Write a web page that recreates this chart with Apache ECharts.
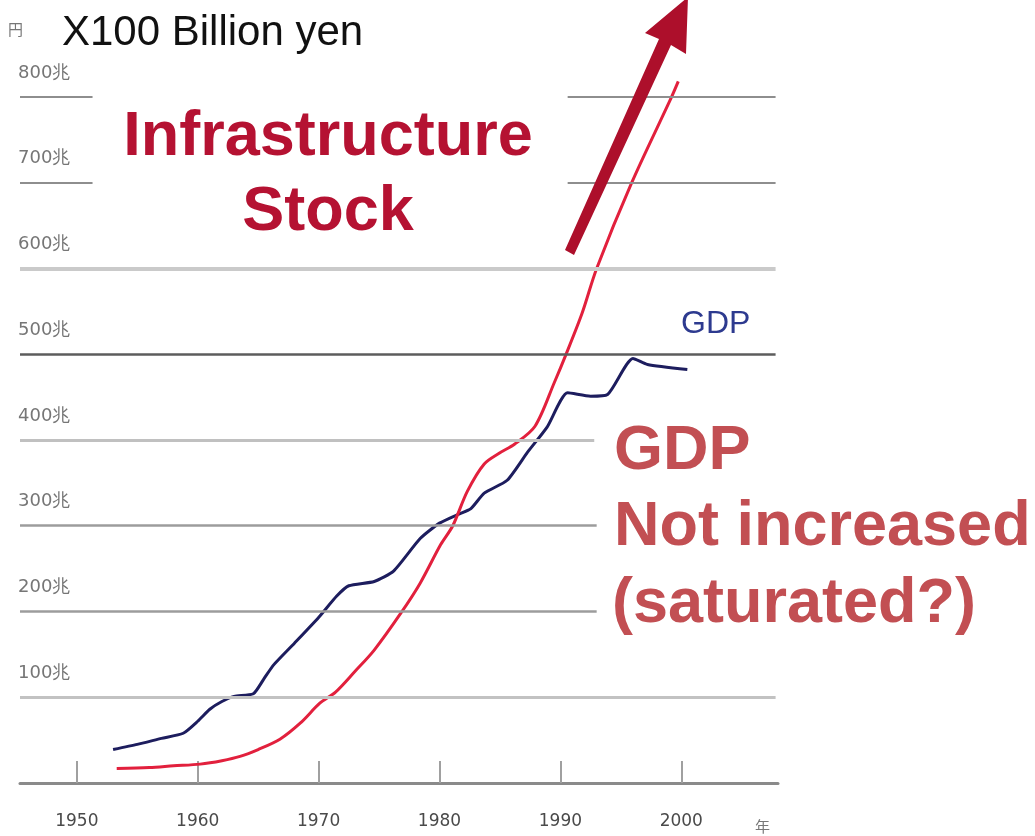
<!DOCTYPE html>
<html>
<head>
<meta charset="utf-8">
<script src="https://cdn.jsdelivr.net/npm/echarts@6/dist/echarts.min.js"></script>
<style>
  html, body { margin: 0; padding: 0; background: #fff; }
  #chart { width: 1035px; height: 836px; }
</style>
</head>
<body>
<div id="chart"></div>
<script>
// Infrastructure stock (x100 billion yen) by year
const stockYears  = [1953.3, 1956, 1958, 1960.2, 1962, 1963.5, 1965, 1966.8, 1968.5, 1970.1, 1971.4, 1973, 1974.6, 1976.8, 1978.4, 1980.1, 1981.1, 1982.3, 1983.7, 1985, 1986.2, 1987.9, 1989.5, 1990.5, 1991.8, 1993.0, 1995.9, 1999.2, 1999.75];
const stockValues = [17, 18, 20, 22, 26, 31, 39, 51, 70, 93, 106, 130, 155, 198, 233, 278, 300, 340, 372, 385, 395, 416, 467, 501, 548, 600, 700, 800, 818];

// GDP (x100 billion yen) by year
const gdpYears  = [1953, 1955, 1957, 1958.8, 1960, 1961, 1962, 1963, 1964.6, 1965.5, 1966.3, 1968, 1970, 1971.5, 1972.5, 1974.6, 1976.2, 1978.4, 1980, 1981.5, 1982.6, 1983.7, 1985.6, 1987.3, 1988.9, 1990.6, 1992.5, 1993.9, 1996, 1997.2, 2000.5];
const gdpValues = [39, 45, 52, 58, 72, 86, 95, 101, 104, 122, 138, 163, 193, 218, 230, 235, 247, 285, 303, 313, 320, 338, 353, 386, 415, 455, 451, 453, 495, 488, 482];

// Axis ticks
const yearTicks = [1950, 1960, 1970, 1980, 1990, 2000];
const valueTicks = [100, 200, 300, 400, 500, 600, 700, 800];

const X_MIN = 1945.3, X_MAX = 2008;

// Horizontal rules: style per level, with gaps left open for the annotation text
const ruleStyle = {
  100: { color: '#c2c2c2', width: 3 },
  200: { color: '#9c9c9c', width: 2.5 },
  300: { color: '#9c9c9c', width: 2.5 },
  400: { color: '#c0c0c0', width: 3 },
  500: { color: '#5c5c5c', width: 2.5 },
  600: { color: '#cacaca', width: 4 },
  700: { color: '#8e8e8e', width: 2 },
  800: { color: '#8e8e8e', width: 2 }
};
const fullSpan = [[X_MIN, 2007.8]];
const ruleSpans = {
  100: fullSpan, 500: fullSpan, 600: fullSpan,
  200: [[X_MIN, 1993.0]], 300: [[X_MIN, 1993.0]], 400: [[X_MIN, 1992.8]],
  700: [[X_MIN, 1951.3], [1990.6, 2007.8]],
  800: [[X_MIN, 1951.3], [1990.6, 2007.8]]
};
const ruleSegments = [];
valueTicks.forEach(v => {
  ruleSpans[v].forEach(([a, b]) => {
    ruleSegments.push([
      { coord: [a, v], lineStyle: { color: ruleStyle[v].color, width: ruleStyle[v].width, type: 'solid' } },
      { coord: [b, v] }
    ]);
  });
});

const zip = (xs, ys) => xs.map((x, i) => [x, ys[i]]);

const chart = echarts.init(document.getElementById('chart'), null, { renderer: 'canvas' });

chart.setOption({
  animation: false,
  backgroundColor: '#ffffff',
  grid: { left: 20, right: 257, top: 54, bottom: 53, containLabel: false, outerBoundsMode: 'none' },
  xAxis: {
    type: 'value',
    min: X_MIN,
    max: X_MAX,
    axisLine: { show: true, lineStyle: { color: '#8a8a8a', width: 3 } },
    axisTick: { show: true, inside: true, length: 22, customValues: yearTicks, lineStyle: { color: '#a0a0a0', width: 2 } },
    axisLabel: { customValues: yearTicks, formatter: v => String(v), margin: 30, fontSize: 17, color: '#4a4a4a', fontFamily: 'DejaVu Sans' },
    splitLine: { show: false }
  },
  yAxis: {
    type: 'value',
    min: 0,
    max: 850,
    axisLine: { show: false },
    axisTick: { show: false },
    splitLine: { show: false },
    axisLabel: {
      inside: true,
      margin: -2,
      customValues: valueTicks,
      formatter: v => v + '兆',
      verticalAlign: 'bottom',
      padding: [0, 0, 15, 0],
      fontSize: 18,
      color: '#767676',
      fontFamily: 'DejaVu Sans'
    }
  },
  series: [
    {
      name: 'rules',
      type: 'line',
      data: [],
      silent: true,
      z: 1,
      markLine: {
        silent: true,
        symbol: ['none', 'none'],
        label: { show: false },
        emphasis: { disabled: true },
        data: ruleSegments
      }
    },
    {
      name: 'GDP',
      type: 'line',
      data: zip(gdpYears, gdpValues),
      showSymbol: false,
      smooth: 0.2,
      z: 3,
      lineStyle: { color: '#1d1d5e', width: 3 }
    },
    {
      name: 'Infrastructure Stock',
      type: 'line',
      data: zip(stockYears, stockValues),
      showSymbol: false,
      smooth: 0.3,
      z: 4,
      lineStyle: { color: '#e2203d', width: 3 }
    }
  ],
  graphic: [
    { type: 'text', left: 8, top: 22, z: 10, style: { text: '円', fontSize: 15, fill: '#777', fontFamily: 'Noto Sans CJK JP' } },
    { type: 'text', x: 62, y: 33, z: 10, style: { text: 'X100 Billion yen', fontSize: 42, fill: '#111', fontFamily: 'Liberation Sans', verticalAlign: 'middle' } },
    { type: 'text', x: 328, y: 138, z: 10, style: { text: 'Infrastructure', fontSize: 63, fontWeight: 'bold', fill: '#b51232', fontFamily: 'Liberation Sans', align: 'center', verticalAlign: 'middle' } },
    { type: 'text', x: 328, y: 213, z: 10, style: { text: 'Stock', fontSize: 63, fontWeight: 'bold', fill: '#b51232', fontFamily: 'Liberation Sans', align: 'center', verticalAlign: 'middle' } },
    { type: 'text', x: 614, y: 452, z: 10, style: { text: 'GDP', fontSize: 63, fontWeight: 'bold', fill: '#c24f53', fontFamily: 'Liberation Sans', verticalAlign: 'middle' } },
    { type: 'text', x: 614, y: 528, z: 10, style: { text: 'Not increased', fontSize: 63, fontWeight: 'bold', fill: '#c24f53', fontFamily: 'Liberation Sans', verticalAlign: 'middle' } },
    { type: 'text', x: 612, y: 605, z: 10, style: { text: '(saturated?)', fontSize: 63, fontWeight: 'bold', fill: '#c24f53', fontFamily: 'Liberation Sans', verticalAlign: 'middle' } },
    { type: 'text', x: 681, y: 324, z: 10, style: { text: 'GDP', fontSize: 32, fill: '#2d3a8f', fontFamily: 'Liberation Sans', verticalAlign: 'middle' } },
    { type: 'text', x: 755, y: 826, z: 10, style: { text: '年', fontSize: 15, fill: '#777', fontFamily: 'Noto Sans CJK JP', verticalAlign: 'middle' } },
    {
      type: 'polygon', z: 10,
      shape: { points: [[565, 250], [574, 255], [671, 45], [686, 54], [688, -3], [645, 33], [659, 39]] },
      style: { fill: '#ad0f2b' }
    }
  ]
});
</script>
</body>
</html>
